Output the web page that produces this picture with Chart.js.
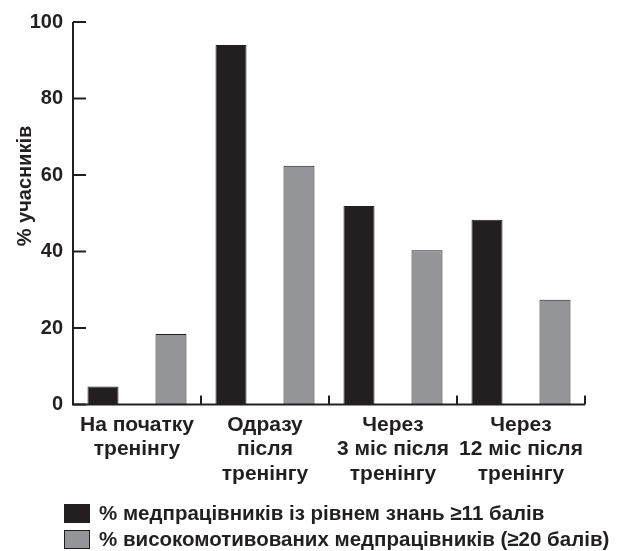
<!DOCTYPE html>
<html>
<head>
<meta charset="utf-8">
<script src="https://cdn.jsdelivr.net/npm/chart.js@4.4.0/dist/chart.umd.min.js"></script>
<style>
  html, body { margin: 0; padding: 0; background: #ffffff; }
  #wrap { position: relative; width: 627px; height: 551px; }
</style>
</head>
<body>
<div id="wrap"><canvas id="c" width="627" height="551"></canvas></div>
<script>
const categories = [
  ["На початку", "тренінгу"],
  ["Одразу", "після", "тренінгу"],
  ["Через", "3 міс після", "тренінгу"],
  ["Через", "12 міс після", "тренінгу"]
];
const knowledgeValues = [4.7, 94.0, 51.9, 48.3];
const motivatedValues = [18.4, 62.4, 40.3, 27.4];
const seriesLabels = [
  "% медпрацівників із рівнем знань \u226511 балів",
  "% високомотивованих медпрацівників (\u226520 балів)"
];
const yTicks = [0, 20, 40, 60, 80, 100];
const yTitle = "% учасників";

const INK = "#231f20";
const GREY = "#939598";
const FONT = "'Liberation Sans', Arial, sans-serif";

const axisPlugin = {
  id: "customAxes",
  afterDatasetsDraw(chart) {
    const ctx = chart.ctx;
    const area = chart.chartArea;
    const xs = chart.scales.x;
    const ys = chart.scales.y;
    ctx.save();
    ctx.strokeStyle = INK;
    ctx.lineWidth = 2;
    ctx.beginPath();
    ctx.moveTo(area.left, ys.getPixelForValue(100));
    ctx.lineTo(area.left, ys.getPixelForValue(0));
    ctx.lineTo(area.right, ys.getPixelForValue(0));
    ctx.stroke();
    yTicks.forEach(v => {
      const y = ys.getPixelForValue(v);
      ctx.beginPath();
      ctx.moveTo(area.left, y);
      ctx.lineTo(area.left + 13, y);
      ctx.stroke();
    });
    const y0 = ys.getPixelForValue(0);
    for (let i = 0; i < categories.length; i++) {
      let x;
      if (i < categories.length - 1) {
        x = (xs.getPixelForValue(i) + xs.getPixelForValue(i + 1)) / 2;
      } else {
        x = area.right;
      }
      ctx.beginPath();
      ctx.moveTo(x, y0);
      ctx.lineTo(x, y0 - 9);
      ctx.stroke();
    }
    ctx.restore();
  },
  afterDraw(chart) {
    const ctx = chart.ctx;
    ctx.save();
    ctx.translate(25, 186);
    ctx.rotate(-Math.PI / 2);
    ctx.fillStyle = INK;
    ctx.font = "bold 20px " + FONT;
    ctx.textAlign = "center";
    ctx.textBaseline = "middle";
    ctx.fillText(yTitle, 0, 0);
    ctx.restore();

    ctx.save();
    const fills = [INK, GREY];
    ctx.font = "bold 20.5px " + FONT;
    ctx.textBaseline = "middle";
    ctx.textAlign = "left";
    seriesLabels.forEach((lbl, i) => {
      const top = 504 + i * 26;
      ctx.fillStyle = fills[i];
      ctx.fillRect(64, top, 26, 19);
      ctx.strokeStyle = INK;
      ctx.lineWidth = 1;
      ctx.strokeRect(64.5, top + 0.5, 25, 18);
      ctx.fillStyle = INK;
      ctx.fillText(lbl, 99, top + 10);
    });
    ctx.restore();
  }
};

new Chart(document.getElementById("c"), {
  type: "bar",
  data: {
    labels: categories,
    datasets: [
      {
        label: seriesLabels[0],
        data: knowledgeValues,
        backgroundColor: INK,
        borderColor: INK,
        borderWidth: 1,
        categoryPercentage: 1.0625,
        barPercentage: 0.456
      },
      {
        label: seriesLabels[1],
        data: motivatedValues,
        backgroundColor: GREY,
        borderColor: INK,
        borderWidth: 1,
        categoryPercentage: 1.0625,
        barPercentage: 0.456
      }
    ]
  },
  plugins: [axisPlugin],
  options: {
    responsive: false,
    animation: false,
    devicePixelRatio: 1,
    layout: { padding: { left: 0, right: 42, top: 22, bottom: 0 } },
    plugins: {
      legend: { display: false },
      tooltip: { enabled: false }
    },
    scales: {
      x: {
        grid: { display: false, drawTicks: false },
        border: { display: false },
        ticks: {
          color: INK,
          font: { family: FONT, size: 21, weight: "bold", lineHeight: 1.17 },
          padding: 8,
          maxRotation: 0,
          autoSkip: false
        },
        afterFit(scale) { scale.height = 146.5; }
      },
      y: {
        min: 0,
        max: 100,
        grid: { display: false, drawTicks: false },
        border: { display: false },
        afterBuildTicks(scale) { scale.ticks = yTicks.map(v => ({ value: v })); },
        ticks: {
          color: INK,
          font: { family: FONT, size: 20, weight: "bold" },
          padding: 10
        },
        afterFit(scale) { scale.width = 73; }
      }
    }
  }
});
</script>
</body>
</html>
